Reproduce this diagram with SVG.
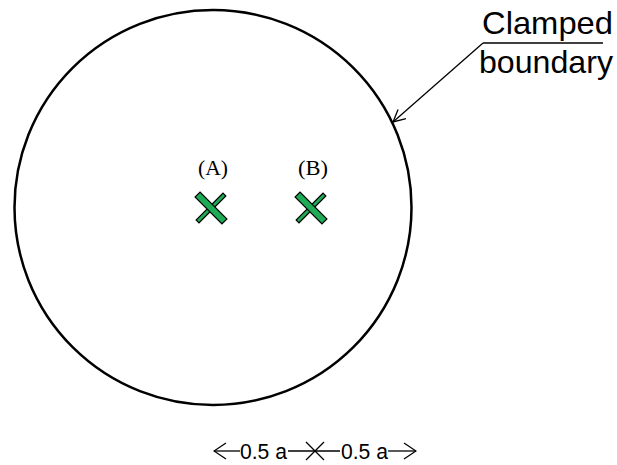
<svg xmlns="http://www.w3.org/2000/svg" width="617" height="465" viewBox="0 0 617 465">
<style>
.line{stroke:#000;fill:none;stroke-width:1.3}
.sans{font-family:"Liberation Sans",Arial,sans-serif;fill:#000}
.serif{font-family:"Liberation Serif","Times New Roman",serif;fill:#000;font-size:20px;text-anchor:middle}
.bar{fill:#1faa55;stroke:#000;stroke-width:1.2}
</style>
<defs>
<marker id="open" viewBox="0 0 14 18" refX="13" refY="9" markerWidth="14" markerHeight="18" markerUnits="userSpaceOnUse" orient="auto">
<path d="M1,1 L13,9 L1,17" fill="none" stroke="#000" stroke-width="1.3"/>
</marker>
<marker id="openS" viewBox="0 0 14 14" refX="13" refY="7" markerWidth="14" markerHeight="14" markerUnits="userSpaceOnUse" orient="auto">
<path d="M1,1 L13,7 L1,13" fill="none" stroke="#000" stroke-width="1.3"/>
</marker>
<g id="xmark">
<rect x="-19" y="-2" width="38" height="4" class="bar" transform="rotate(-45)"/>
<rect x="-19" y="-3.5" width="38" height="7" class="bar" transform="rotate(45)"/>
</g>
</defs>
<g id="plate">
<ellipse cx="213" cy="207.5" rx="198.5" ry="197.5" fill="none" stroke="#000" stroke-width="2.5"/>
</g>
<g id="pointA">
<text class="serif" x="213" y="175" textLength="30" lengthAdjust="spacingAndGlyphs">(A)</text>
<use href="#xmark" x="211" y="208"/>
</g>
<g id="pointB">
<text class="serif" x="313" y="175" textLength="30" lengthAdjust="spacingAndGlyphs">(B)</text>
<use href="#xmark" x="311" y="208"/>
</g>
<g id="label">
<text class="sans" x="482" y="34" font-size="32" textLength="131" lengthAdjust="spacingAndGlyphs">Clamped</text>
<text class="sans" x="479" y="73" font-size="32" textLength="134" lengthAdjust="spacingAndGlyphs">boundary</text>
</g>
<g id="connectors">
<line class="line" x1="603" y1="43" x2="483" y2="43"/>
<line class="line" x1="483" y1="43" x2="393" y2="122" marker-end="url(#openS)"/>
<line class="line" x1="240" y1="451" x2="214" y2="451" marker-end="url(#open)"/>
<line class="line" x1="288" y1="451" x2="340" y2="451"/>
<line class="line" x1="306" y1="442" x2="324" y2="460"/>
<line class="line" x1="324" y1="442" x2="306" y2="460"/>
<line class="line" x1="388" y1="451" x2="416" y2="451" marker-end="url(#open)"/>
</g>
<g id="dims">
<text class="sans" x="240" y="459" font-size="22" textLength="47" lengthAdjust="spacingAndGlyphs">0.5 a</text>
<text class="sans" x="341" y="459" font-size="22" textLength="47" lengthAdjust="spacingAndGlyphs">0.5 a</text>
</g>
</svg>
